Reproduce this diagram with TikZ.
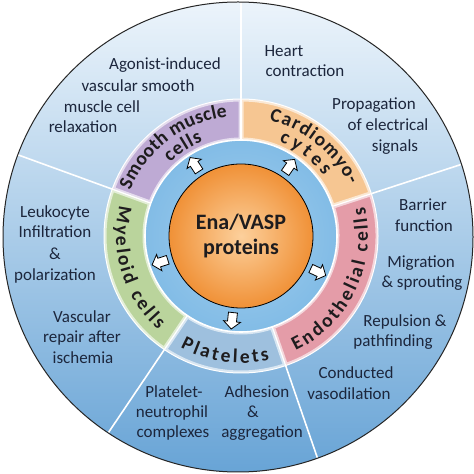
\documentclass[tikz,border=0pt]{standalone}
\usepackage{fontspec}
\setmainfont{Carlito}
\usetikzlibrary{calc,decorations.text}
\definecolor{textNavy}{RGB}{28,38,60}
\definecolor{ringInk}{RGB}{30,28,30}
\definecolor{bgTop}{RGB}{236,244,251}
\definecolor{bgMid}{RGB}{172,208,237}
\definecolor{bgBot}{RGB}{104,164,214}
\definecolor{diskLight}{RGB}{162,206,238}
\definecolor{diskDark}{RGB}{130,188,230}
\definecolor{smcPurple}{RGB}{190,170,212}
\definecolor{cardOrange}{RGB}{246,198,146}
\definecolor{endoPink}{RGB}{228,156,168}
\definecolor{platBlue}{RGB}{158,192,222}
\definecolor{myeGreen}{RGB}{186,212,156}
\definecolor{coreLight}{RGB}{252,208,156}
\definecolor{coreDark}{RGB}{240,145,55}
\newcommand{\RingFont}{\fontsize{19.5}{21}\selectfont\bfseries}
\newcommand{\SegPath}[2]{($(C)+(#1:96)$) arc[start angle=#1,end angle=#2,radius=96pt]
  -- ($(C)+(#2:137)$) arc[start angle=#2,end angle=#1,radius=137pt] -- cycle}
\newcommand{\RingSeg}[3]{%
  \begin{scope}
    \clip \SegPath{#1}{#2};
    \fill[#3] \SegPath{#1}{#2};
    \draw[#3!40!white,line width=5pt] \SegPath{#1}{#2};
  \end{scope}}
\tikzset{
  outertext/.style={font=\fontsize{17}{20.5}\selectfont,text=textNavy,inner sep=0pt,anchor=base},
  cellarrow/.pic={
    \draw[black,fill=white,line width=0.8pt,line join=miter]
      (-8,-4.5) -- (1,-4.5) -- (1,-8.5) -- (8.5,0) -- (1,8.5) -- (1,4.5) -- (-8,4.5) -- cycle;},
  ringlabel/.style={decorate,decoration={text along path,text align={fit to path},
    text color=ringInk,text={|\RingFont|#1}}}
}

\begin{document}
\begin{tikzpicture}[x=1pt,y=1pt]
\useasboundingbox (0,0) rectangle (474,474);
\fill[white] (0,0) rectangle (474,474);
\coordinate (O) at (238,237);
\coordinate (C) at (241,238);

% outer disc and sector lines
\shade[top color=bgTop,middle color=bgMid,bottom color=bgBot] (O) circle[radius=235pt];
\begin{scope}
  \clip (O) circle[radius=235pt];
  \foreach \a in {18,90,160,236,289}
    \draw[white,line width=1.6pt] ($(C)+(\a:96)$) -- ($(C)+(\a:250)$);
\end{scope}
\draw[black!85,line width=1pt] (O) circle[radius=235pt];

% ring of cell types
\RingSeg{90}{160}{smcPurple}
\RingSeg{18}{90}{cardOrange}
\RingSeg{289}{378}{endoPink}
\RingSeg{236}{289}{platBlue}
\RingSeg{160}{236}{myeGreen}
\foreach \a in {18,90,160,236,289}
  \draw[white,line width=1.2pt] ($(C)+(\a:96)$) -- ($(C)+(\a:137)$);
\draw[white,line width=1pt] (C) circle[radius=137pt];

% inner disc
\shade[inner color=diskLight,outer color=diskDark] (C) circle[radius=96pt];
\draw[white,line width=1.6pt] (C) circle[radius=96pt];

% ring labels
\path[ringlabel={Smooth muscle}] ($(C)+(157.5:120)$) arc[start angle=157.5,end angle=96.5,radius=120pt];
\path[ringlabel={cells}] ($(C)+(134:102)$) arc[start angle=134,end angle=112,radius=102pt];
\path[ringlabel={Cardiomyo-}] ($(C)+(76.3:119)$) arc[start angle=76.3,end angle=25.2,radius=119pt];
\path[ringlabel={cytes}] ($(C)+(68:102)$) arc[start angle=68,end angle=36,radius=102pt];
\path[ringlabel={Endothelial cells}] ($(C)+(-64.5:127)$) arc[start angle=-64.5,end angle=13,radius=127pt];
\path[ringlabel={Myeloid cells}] ($(C)+(166:125)$) arc[start angle=166,end angle=228.5,radius=125pt];
\path[ringlabel={Platelets}] ($(C)+(241.5:127)$) arc[start angle=241.5,end angle=283,radius=127pt];

% core
\node[circle,draw=black,line width=0.8pt,minimum size=144pt,inner sep=0pt,
  shade,inner color=coreLight,outer color=coreDark,align=center,text=ringInk,
  font=\fontsize{22}{25}\selectfont\bfseries] (core) at (C) {Ena/VASP\\proteins};

% arrows to the cell types
\foreach \a [count=\i] in {123,55,198,-25,-96}
  \pic[rotate=\a] (arr\i) at ($(C)+(\a:85)$) {cellarrow};

% functions
\foreach \x/\y/\t [count=\i] in {
  165/65/Agonist-induced, 138/87/vascular smooth, 102/108/muscle cell, 83/128/relaxation,
  284/52/Heart, 305/72/contraction,
  374/105/Propagation, 388/126/of electrical, 395/147/signals,
  423/206/Barrier, 424/227/function,
  421/263/Migration, 422/283/\& sprouting,
  405/322/Repulsion \&, 393/342/pathfinding,
  356/374/Conducted, 349/395/vasodilation,
  174/393/Platelet-, 172/413/neutrophil, 173/433/complexes,
  257/393/Adhesion, 253/413/\&, 262/433/aggregation,
  55/213/Leukocyte, 55/233/Infiltration, 55/255/\&, 55/276/polarization,
  82/318/Vascular, 82/338/repair after, 83/359/ischemia}
  \node[outertext] (fn\i) at (\x,469-\y) {\t};
\end{tikzpicture}
\end{document}
